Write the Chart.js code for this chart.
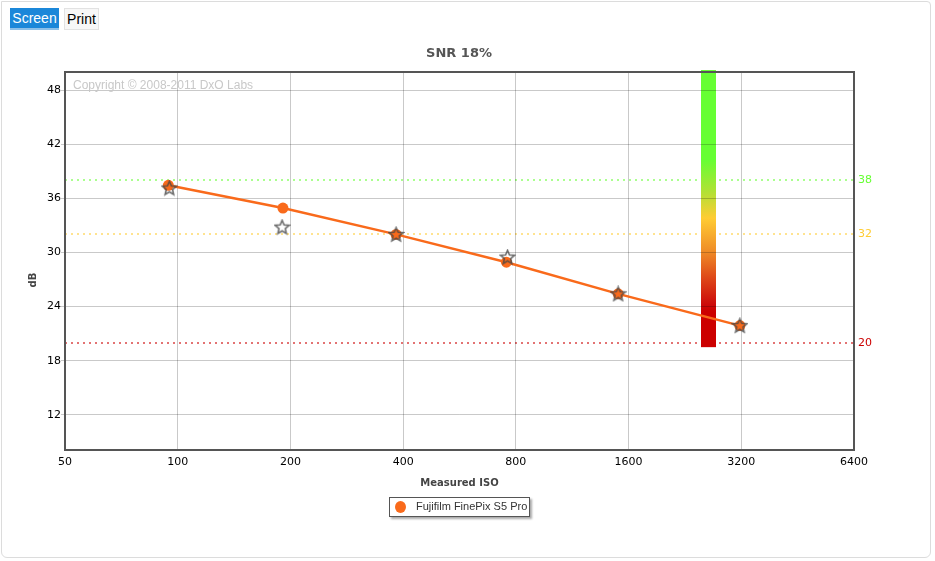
<!DOCTYPE html>
<html><head><meta charset="utf-8">
<script src="https://cdn.jsdelivr.net/npm/chart.js@4.4.1/dist/chart.umd.min.js"></script>
<style>
html,body{margin:0;padding:0;background:#fff;width:935px;height:561px;overflow:hidden;font-family:"Liberation Sans",Arial,sans-serif;}
#frame{position:absolute;left:1px;top:1px;width:928px;height:555px;border:1px solid #dcdcdc;border-radius:0 4px 6px 6px;}
#c{position:absolute;left:0;top:0;}
.btn{position:absolute;top:8px;height:22px;font-size:14px;line-height:21px;box-sizing:border-box;text-align:center;}
#screen{left:10px;width:49px;background:#1b87d9;color:#fff;border-bottom:2px solid #8dc0e8;}
#print{left:64px;width:35px;background:#f7f7f7;color:#000;border:1px solid #e2e2e2;line-height:20px;}
#copy{position:absolute;left:73px;top:78px;font-size:12px;color:#c8c8c8;white-space:nowrap;}
#ytitle{position:absolute;left:20px;top:273px;width:26px;height:14px;text-align:center;font:bold 10px "DejaVu Sans",Verdana,sans-serif;color:#444;transform:rotate(-90deg);line-height:14px;}
#legend{position:absolute;left:389px;top:497px;width:141px;height:20px;box-sizing:border-box;border:1px solid #555;box-shadow:2px 2px 2px #aaa;background:#fff;font-size:11px;color:#333;white-space:nowrap;}
#legend .dot{position:absolute;left:5px;top:3px;width:11px;height:12px;border-radius:50%;background:#f96a1b;}
#legend .lt{position:absolute;left:26px;top:2px;line-height:13px;}
</style></head>
<body>
<div id="frame"></div>
<canvas id="c" width="935" height="561"></canvas>
<div class="btn" id="screen">Screen</div>
<div class="btn" id="print">Print</div>
<div id="copy">Copyright © 2008-2011 DxO Labs</div>
<div id="ytitle">dB</div>
<div id="legend"><span class="dot"></span><span class="lt">Fujifilm FinePix S5 Pro</span></div>
<script>
// ---- data ----
const chartTitle = 'SNR 18%';
const seriesName = 'Fujifilm FinePix S5 Pro';
const xTicks = [50, 100, 200, 400, 800, 1600, 3200, 6400];
const yTicks = [12, 18, 24, 30, 36, 42, 48];
const measuredIso = [94.4, 191, 383, 755, 1501, 3172];
const snrDb = [37.44, 34.92, 32.0, 28.92, 25.41, 21.89];
const starIso = [95, 190, 383, 760, 1501, 3172];
const starDb = [37.14, 32.81, 32.0, 29.48, 25.41, 21.89];
const thresholds = [38, 32, 20];
const thresholdColors = ['#66ff33', '#ffcc33', '#cc0000'];
const thresholdLineColors = ['rgba(102,255,51,0.55)', 'rgba(255,204,51,0.55)', 'rgba(204,0,0,0.55)'];
const barIso = 2612;
const barBottomDb = 19.5;
const barStops = [
  {v: 40.3, c: '#66ff33'},
  {v: 36.6, c: '#b4e035'},
  {v: 33.8, c: '#ffcc33'},
  {v: 30.3, c: '#f09028'},
  {v: 27.0, c: '#dd4418'},
  {v: 24.2, c: '#cc0a0a'},
  {v: 23.5, c: '#cc0000'}
];

const FONT = '"DejaVu Sans", Verdana, sans-serif';
const gridColor = 'rgba(0,0,0,0.21)';

function makeStar() {
  const c = document.createElement('canvas');
  c.width = 17; c.height = 17;
  const g = c.getContext('2d');
  g.beginPath();
  for (let i = 0; i < 10; i++) {
    const r = i % 2 ? 3.3 : 7.2;
    const a = -Math.PI / 2 + i * Math.PI / 5;
    g.lineTo(8.5 + r * Math.cos(a), 9 + r * Math.sin(a));
  }
  g.closePath();
  g.lineWidth = 1.6;
  g.strokeStyle = 'rgba(70,70,70,0.8)';
  g.stroke();
  return c;
}
const starImg = makeStar();

const decor = {
  id: 'decor',
  beforeDraw(chart) {
    const {ctx, chartArea: a, scales: {x, y}} = chart;
    ctx.save();
    thresholds.forEach((t, i) => {
      const py = Math.round(y.getPixelForValue(t));
      ctx.strokeStyle = thresholdLineColors[i];
      ctx.lineWidth = 2;
      ctx.setLineDash([2, 4]);
      ctx.beginPath();
      ctx.moveTo(a.left, py);
      ctx.lineTo(a.right, py);
      ctx.stroke();
    });
    ctx.setLineDash([]);
    const cx = x.getPixelForValue(barIso);
    const top = a.top - 2;
    const bot = y.getPixelForValue(barBottomDb);
    const grad = ctx.createLinearGradient(0, top, 0, bot);
    barStops.forEach(s => {
      let f = (y.getPixelForValue(s.v) - top) / (bot - top);
      f = Math.min(1, Math.max(0, f));
      grad.addColorStop(f, s.c);
    });
    ctx.fillStyle = grad;
    ctx.fillRect(Math.round(cx - 7.5), top, 15, bot - top);
    ctx.restore();
  },
  afterDraw(chart) {
    const {ctx, chartArea: a} = chart;
    ctx.save();
    ctx.strokeStyle = '#555';
    ctx.lineWidth = 2;
    ctx.strokeRect(a.left, a.top, a.right - a.left, a.bottom - a.top);
    ctx.restore();
  }
};

new Chart(document.getElementById('c'), {
  type: 'scatter',
  data: {
    datasets: [
      {
        label: 'stars',
        data: starIso.map((v, i) => ({x: v, y: starDb[i]})),
        pointStyle: starImg,
        pointRadius: 8,
        showLine: false
      },
      {
        label: seriesName,
        data: measuredIso.map((v, i) => ({x: v, y: snrDb[i]})),
        showLine: true,
        borderColor: '#f96a1b',
        borderWidth: 2.5,
        backgroundColor: '#f96a1b',
        pointBackgroundColor: '#f96a1b',
        pointBorderWidth: 0,
        pointRadius: 5.5
      }
    ]
  },
  options: {
    responsive: false,
    animation: false,
    layout: {padding: {left: 14, right: 31, top: 0, bottom: 71}},
    plugins: {
      legend: {display: false},
      tooltip: {enabled: false},
      title: {
        display: true, text: chartTitle, color: '#555',
        font: {family: FONT, size: 13, weight: 'bold'},
        padding: {top: 46.2, bottom: 10.2}
      }
    },
    scales: {
      x: {
        type: 'logarithmic', min: 50, max: 6400,
        afterBuildTicks: s => { s.ticks = xTicks.map(v => ({value: v})); },
        afterFit: s => { s.height = 40; },
        ticks: {callback: v => String(v), color: '#000', font: {family: FONT, size: 11}, padding: 6, autoSkip: false, maxRotation: 0},
        grid: {color: gridColor, drawTicks: false},
        border: {display: false},
        title: {display: true, text: 'Measured ISO', color: '#444', font: {family: FONT, size: 10, weight: 'bold'}, padding: {top: 0, bottom: 1}}
      },
      y: {
        position: 'left', min: 8.1, max: 50,
        afterBuildTicks: s => { s.ticks = yTicks.map(v => ({value: v})); },
        afterFit: s => { s.width = 51; },
        ticks: {color: '#000', font: {family: FONT, size: 11}, padding: 0},
        grid: {color: gridColor, tickLength: 4},
        border: {display: false}
      },
      y2: {
        position: 'right', min: 8.1, max: 50,
        afterBuildTicks: s => { s.ticks = thresholds.map(v => ({value: v})); },
        afterFit: s => { s.width = 50; },
        ticks: {color: c => thresholdColors[thresholds.indexOf(c.tick.value)], font: {family: FONT, size: 11}, padding: 4},
        grid: {display: false, drawTicks: false, tickLength: 0},
        border: {display: false}
      }
    }
  },
  plugins: [decor]
});
</script>
</body></html>
